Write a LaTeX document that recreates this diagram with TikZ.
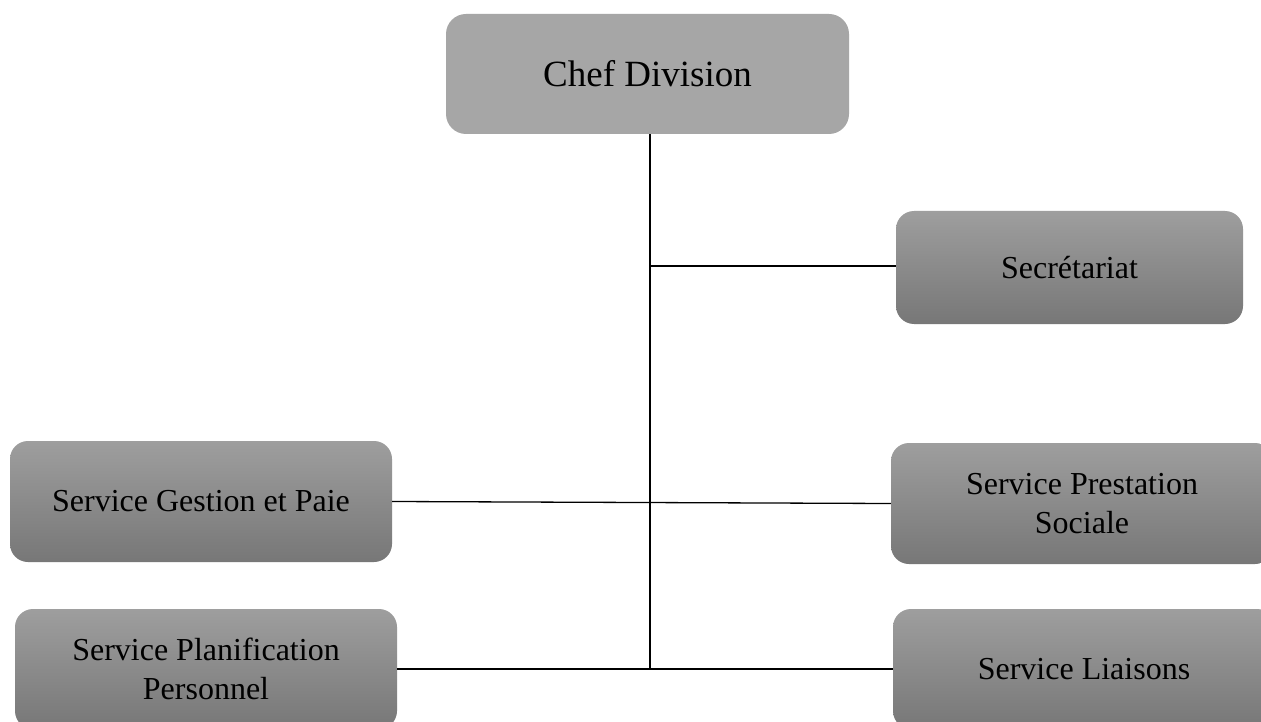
\documentclass[tikz,border=0pt]{standalone}
\usepackage{fontspec}
\setmainfont{Liberation Serif}
\definecolor{headgray}{RGB}{166,166,166}
\definecolor{boxtop}{RGB}{158,158,158}
\definecolor{boxbottom}{RGB}{119,119,119}
\begin{document}
\begin{tikzpicture}[x=1pt,y=-1pt,
  unitbox/.style={rounded corners=18pt, inner sep=0pt, align=center,
    top color=boxtop, bottom color=boxbottom, draw=none,
    font=\fontsize{32}{39}\selectfont},
  headbox/.style={rounded corners=20pt, inner sep=0pt, align=center,
    fill=headgray, draw=none, font=\fontsize{37}{44}\selectfont},
  link/.style={line width=1.3pt, black}]
\path[use as bounding box, clip] (0,0) rectangle (1261,722);
\fill[white] (0,0) rectangle (1261,722);

% head of the division
\node[headbox, minimum width=403pt, minimum height=120pt] (chef) at (647.5,74) {Chef Division};

% units
\node[unitbox, minimum width=347pt, minimum height=113pt] (sec) at (1069.5,267.5) {Secrétariat};
\node[unitbox, minimum width=382pt, minimum height=121pt] (gest) at (201,501.5) {Service Gestion et Paie};
\node[unitbox, minimum width=382pt, minimum height=121pt] (prest) at (1082,503.5) {Service Prestation\\Sociale};
\node[unitbox, minimum width=382pt, minimum height=120pt] (plan) at (206,669) {Service Planification\\Personnel};
\node[unitbox, minimum width=382pt, minimum height=120pt] (liais) at (1084,669) {Service Liaisons};

% trunk and branches
\coordinate (bot) at (650,670);
\coordinate (jsec) at (650,266);
\draw[link] (chef.south -| bot) -- (bot);
\draw[link] (jsec) -- (jsec -| sec.west);
\draw[link] (gest.east) -- (prest.west);
\draw[link] (plan.east) -- (liais.west);
\end{tikzpicture}
\end{document}
